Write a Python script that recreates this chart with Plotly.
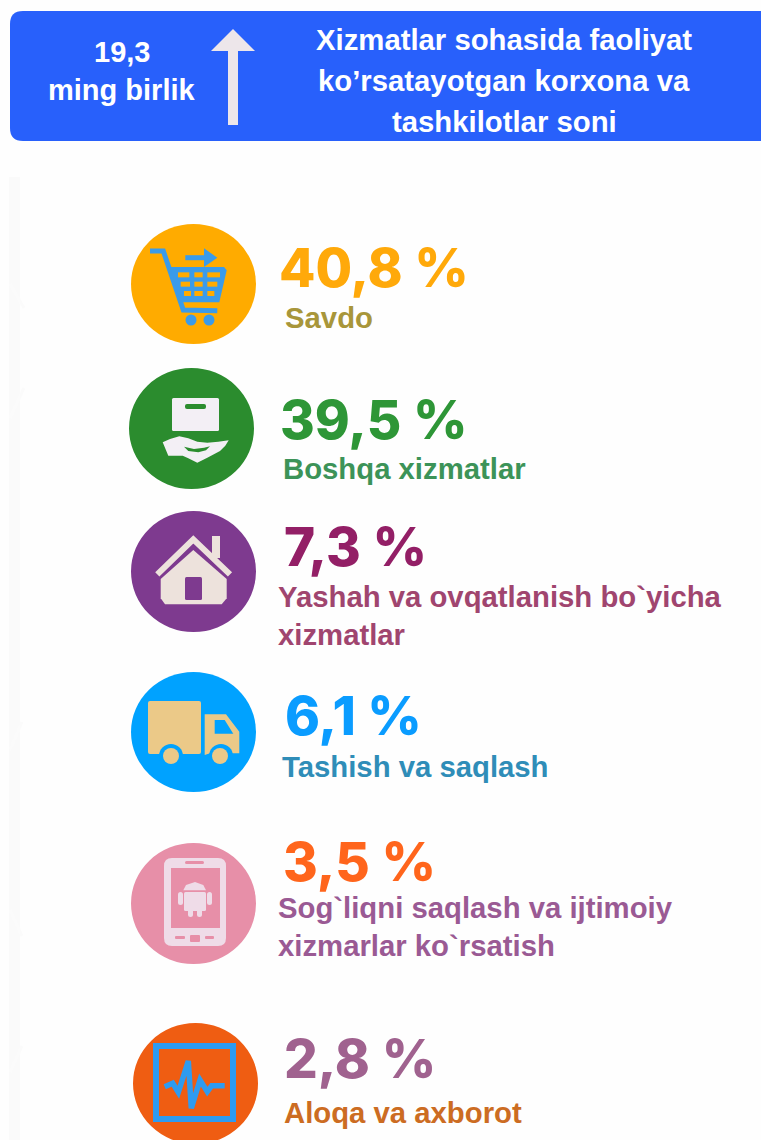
import plotly.graph_objects as go

percent_labels = ["40,8 %", "39,5 %", "7,3 %", "6,1 %", "3,5 %", "2,8 %"]
category_labels = ["Savdo", "Boshqa xizmatlar", "Yashah va ovqatlanish bo`yicha<br>xizmatlar",
                   "Tashish va saqlash", "Sog`liqni saqlash va ijtimoiy<br>xizmarlar ko`rsatish", "Aloqa va axborot"]
header_value = ["19,3", "ming birlik"]
header_title = ["Xizmatlar sohasida faoliyat", "ko’rsatayotgan korxona va", "tashkilotlar soni"]

percent_colors = ["#FFA90A", "#2E9637", "#931F66", "#0A9CFF", "#FF651C", "#A0628F"]
label_colors = ["#A8963A", "#3C9358", "#A0456F", "#2F8DB8", "#9A5A94", "#CC6C22"]
circle_colors = ["#FFAB00", "#2B8C2E", "#7E3A8F", "#00A2FF", "#E78FA8", "#EF5D12"]
circle_boxes = [(131, 224, 256, 344), (129, 368, 254, 489), (131, 511, 256, 632),
                (131, 672, 256, 792), (131, 843, 256, 964), (133, 1023, 258, 1144)]
percent_pos = [(279, 268), (280, 420), (284, 547), (285, 716), (283, 862), (284, 1059)]
label_pos = [(285, 317), (283, 468), (278, 596), (282, 766), (278, 907), (284, 1112)]
label_pos2 = [None, None, (278, 634), None, (278, 945), None]

shapes = []


def rect(x0, y0, x1, y1, color, layer="above"):
    shapes.append(dict(type="rect", x0=x0, y0=y0, x1=x1, y1=y1, fillcolor=color, line_width=0, layer=layer))


def circ(cx, cy, r, color):
    shapes.append(dict(type="circle", x0=cx - r, y0=cy - r, x1=cx + r, y1=cy + r, fillcolor=color, line_width=0))


def poly(pts, color, closed=True, width=0, line=None, layer="above"):
    d = "M" + " L".join(f"{x:.1f},{y:.1f}" for x, y in pts) + (" Z" if closed else "")
    s = dict(type="path", path=d, line=dict(width=width, color=line or color), layer=layer)
    s["fillcolor"] = color if closed else "rgba(0,0,0,0)"
    shapes.append(s)


def zp(ox, oy, pts):
    return [(ox + x / 3, oy + y / 3) for x, y in pts]


def rrect(x0, y0, x1, y1, r, color):
    d = (f"M{x0 + r},{y0} L{x1 - r},{y0} Q{x1},{y0} {x1},{y0 + r} L{x1},{y1 - r} Q{x1},{y1} {x1 - r},{y1} "
         f"L{x0 + r},{y1} Q{x0},{y1} {x0},{y1 - r} L{x0},{y0 + r} Q{x0},{y0} {x0 + r},{y0} Z")
    shapes.append(dict(type="path", path=d, fillcolor=color, line_width=0))


# page background details
rect(9, 177, 20, 1140, "#FAFAFA", layer="below")
for a, b in [((10, 284), (24, 308)), ((10, 418), (24, 388)), ((10, 750), (22, 722)),
             ((10, 910), (22, 936)), ((10, 1072), (22, 1046))]:
    poly([a, b], "#FBFBFB", closed=False, width=3, layer="below")

# header band
rrect(10, 11, 790, 141, 13, "#2860FB")
poly([(211, 51), (233, 29), (255, 51)], "#EDE6EA")
rect(228, 51, 238, 125, "#EDE6EA")

# circles
for box, col in zip(circle_boxes, circle_colors):
    shapes.append(dict(type="circle", x0=box[0], y0=box[1], x1=box[2], y1=box[3], fillcolor=col, line_width=0))

# cart icon
blue = "#3A9BEA"
poly(zp(120, 215, [(90, 108), (130, 108), (190, 285), (292, 287)]), blue, closed=False, width=5)
poly(zp(120, 215, [(150, 156), (312, 156), (320, 166), (298, 262), (182, 262)]), blue)
for row_y, xs in [(172, [(174, 208), (223, 248), (262, 300)]),
                  (200, [(182, 210), (223, 248), (262, 292)]),
                  (228, [(192, 213), (223, 248), (262, 283)])]:
    for a, b in xs:
        x0, y0 = zp(120, 215, [(a, row_y)])[0]
        x1, y1 = zp(120, 215, [(b, row_y + 15)])[0]
        rect(x0, y0, x1, y1, "#FFAB00")
poly(zp(120, 215, [(196, 128), (262, 128)]), blue, closed=False, width=5)
poly(zp(120, 215, [(252, 100), (292, 128), (252, 156)]), blue)
circ(191, 320, 5.5, blue)
circ(209, 320, 5.5, blue)

# box and hand icon
white = "#F3EFF5"
rrect(172, 398, 219, 431, 1.5, white)
rrect(185, 404, 206, 409, 2, "#2B8C2E")
poly(zp(120, 215, [(128, 682), (150, 672), (178, 664), (205, 670), (232, 680), (262, 683), (295, 680), (326, 676),
                   (316, 692), (300, 708), (262, 728), (232, 743), (205, 730), (188, 722), (145, 722)]), white)
poly(zp(120, 215, [(192, 695), (205, 708), (235, 712), (258, 706), (270, 694), (252, 698), (222, 702)]), "#2B8C2E")

# house icon
house = "#EDE2DC"
poly(zp(120, 505, [(122, 222), (220, 135), (320, 222), (320, 280), (305, 298), (135, 298), (122, 280)]), house)
poly(zp(120, 505, [(112, 208), (220, 103), (330, 208)]), house, closed=False, width=6)
rect(212, 536, 220, 558, house)
rrect(185, 577, 202, 600, 1.5, "#7E3A8F")

# truck icon
truck = "#EBC988"
rrect(148, 701, 201, 754, 2, truck)
poly(zp(120, 505, [(254, 628), (318, 628), (358, 680), (358, 745), (330, 745), (300, 725), (270, 745), (254, 750)]), truck)
poly(zp(120, 505, [(284, 645), (314, 645), (340, 686), (284, 686)]), "#00A2FF")
circ(171, 756, 12, "#00A2FF")
circ(221, 756, 12, "#00A2FF")
circ(171, 756, 8, truck)
circ(220, 756, 8, truck)

# phone icon
phone = "#EFDCE8"
rrect(164, 858, 226, 946, 8, phone)
rect(171, 868, 220, 928, "#E78FA8")
rrect(185, 861, 204, 864, 1.5, "#E78FA8")
rrect(175, 936, 185, 939, 1, "#E78FA8")
rrect(190, 935, 200, 942, 1, "#E78FA8")
rrect(205, 936, 214, 939, 1, "#E78FA8")
# android glyph
rrect(184, 892, 206, 911, 1.5, phone)
poly(zp(120, 835, [(190, 166), (198, 150), (225, 141), (250, 150), (258, 166)]), phone)
rrect(178, 892, 183, 905, 2.5, phone)
rrect(207, 892, 212, 905, 2.5, phone)
rrect(188, 908, 193, 917, 2.5, phone)
rrect(197, 908, 202, 917, 2.5, phone)

# monitor / pulse icon
pulse = "#2E9BF0"
shapes.append(dict(type="rect", x0=156, y0=1046, x1=233, y1=1119, fillcolor="rgba(0,0,0,0)",
                   line=dict(color=pulse, width=6)))
poly(zp(120, 835, [(134, 755), (158, 745), (175, 772), (205, 678), (214, 820), (240, 735), (262, 770),
                   (275, 752), (314, 752)]), pulse, closed=False, width=5.5)

annotations = []


def txt(x, y, s, size, color, family="Liberation Sans", weight=700, anchor="left"):
    annotations.append(dict(x=x, y=y, text=s, showarrow=False, xanchor=anchor, yanchor="middle", align=anchor,
                            font=dict(size=size, color=color, family=family, weight=weight), borderpad=0, borderwidth=0))


txt(122, 52, header_value[0], 29, "#FFFFFF", anchor="center")
txt(122, 90, header_value[1], 29, "#FFFFFF", anchor="center")
for y, line in zip([39, 80, 121], header_title):
    txt(504, y, line, 29.3, "#FFFFFF", anchor="center")

for i in range(len(percent_labels)):
    txt(*percent_pos[i], percent_labels[i], 53, percent_colors[i], family="Inter", weight=800)
    parts = category_labels[i].split("<br>")
    txt(*label_pos[i], parts[0], 29.3, label_colors[i])
    if len(parts) > 1:
        txt(*label_pos2[i], parts[1], 29.3, label_colors[i])

fig = go.Figure()
fig.add_trace(go.Scatter(x=[0, 761], y=[0, 1140], mode="markers", marker=dict(opacity=0), hoverinfo="skip", showlegend=False))
fig.update_layout(width=761, height=1140, margin=dict(l=0, r=0, t=0, b=0), paper_bgcolor="#FEFEFE", plot_bgcolor="#FEFEFE",
                  xaxis=dict(range=[0, 761], visible=False, fixedrange=True),
                  yaxis=dict(range=[1140, 0], visible=False, fixedrange=True),
                  shapes=shapes, annotations=annotations, showlegend=False)
fig.write_html("out.html", config=dict(displayModeBar=False),
               post_script="document.body.style.margin='0';document.body.style.overflow='hidden';")
